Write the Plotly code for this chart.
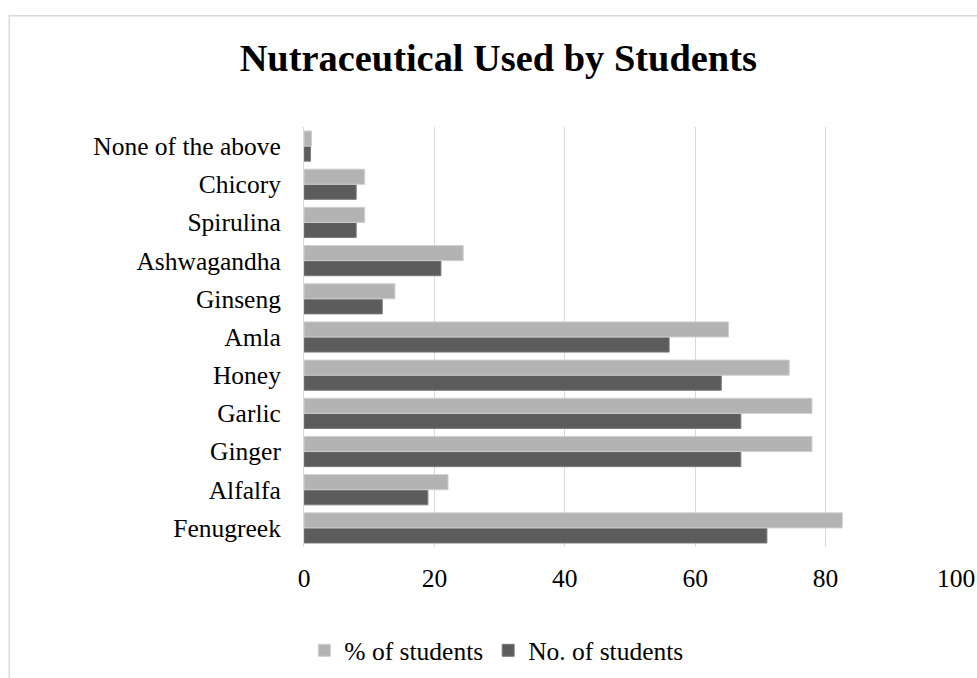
import plotly.graph_objects as go

# Nutraceutical categories (bottom to top on the chart)
categories = ["Fenugreek", "Alfalfa", "Ginger", "Garlic", "Honey", "Amla",
              "Ginseng", "Ashwagandha", "Spirulina", "Chicory", "None of the above"]
no_of_students = [71, 19, 67, 67, 64, 56, 12, 21, 8, 8, 1]
pct_of_students = [82.56, 22.09, 77.91, 77.91, 74.42, 65.12, 13.95, 24.42, 9.30, 9.30, 1.16]
x_ticks = [0, 20, 40, 60, 80, 100]

FONT = "Liberation Serif, Times New Roman, serif"

fig = go.Figure()
fig.add_trace(go.Bar(
    y=categories, x=no_of_students, orientation="h", name="No. of students",
    marker=dict(color="#5c5c5c", line=dict(color="#7a7a7a", width=1)),
))
fig.add_trace(go.Bar(
    y=categories, x=pct_of_students, orientation="h", name="% of students",
    marker=dict(color="#b3b3b3", line=dict(color="#cfcfcf", width=1)),
))

fig.update_layout(
    width=977, height=678,
    margin=dict(l=304, r=21, t=127, b=131, autoexpand=False),
    paper_bgcolor="white", plot_bgcolor="white",
    barmode="group", bargap=0.21, bargroupgap=0.0,
    title=dict(text="<b>Nutraceutical Used by Students</b>",
               font=dict(family=FONT, size=38.4, color="black"),
               x=0.51, xanchor="center", y=0.915, yanchor="middle"),
    font=dict(family=FONT, size=25.5, color="black"),
    showlegend=True,
    legend=dict(orientation="h", traceorder="reversed",
                x=0.295, xanchor="center", y=-0.247, yanchor="middle",
                font=dict(family=FONT, size=25.5, color="black"),
                itemwidth=30),
    xaxis=dict(range=[0, 100], tickvals=x_ticks, showgrid=True,
               gridcolor="#d9d9d9", gridwidth=1, zeroline=False,
               showline=False, ticks="", ticklabelstandoff=13,
               automargin=False,
               tickfont=dict(family=FONT, size=25.5, color="black")),
    yaxis=dict(showgrid=False, zeroline=False, showline=True,
               linecolor="#d9d9d9", linewidth=1, ticks="",
               ticklabelstandoff=17, automargin=False,
               tickfont=dict(family=FONT, size=25.5, color="black")),
    shapes=[dict(type="rect", xref="paper", yref="paper",
                 x0=-0.452, x1=1.1, y0=-0.4, y1=1.265,
                 line=dict(color="#d9d9d9", width=1.5),
                 fillcolor="rgba(0,0,0,0)", layer="below")],
)

fig.write_html("out.html")
